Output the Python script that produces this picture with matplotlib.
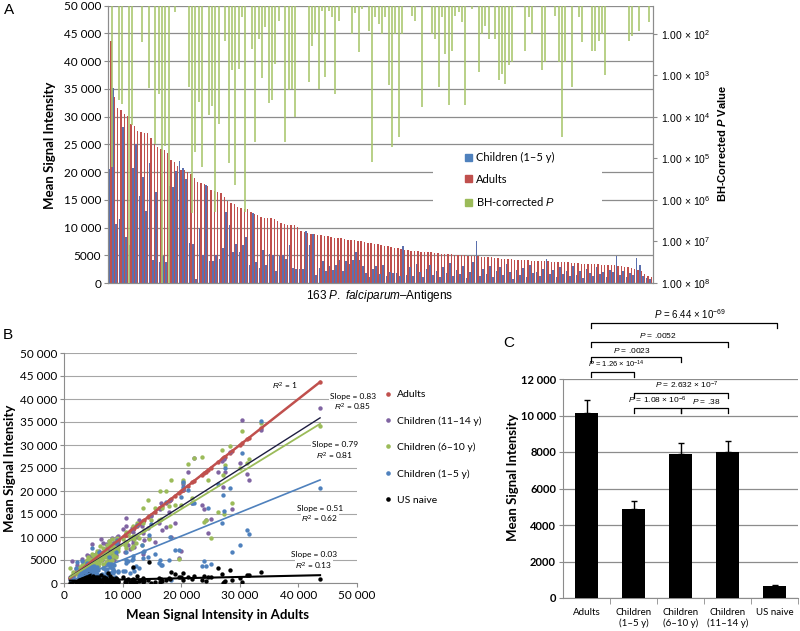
import matplotlib.pyplot as plt
import numpy as np
from matplotlib.lines import Line2D
from matplotlib.patches import Patch, Rectangle
from matplotlib.ticker import FuncFormatter, NullLocator

plt.rcParams["font.family"] = ["Lato", "DejaVu Sans"]
plt.rcParams["mathtext.fontset"] = "custom"
plt.rcParams["mathtext.rm"] = "Liberation Sans"
plt.rcParams["mathtext.it"] = "Liberation Sans:italic"
plt.rcParams["mathtext.bf"] = "Liberation Sans:bold"
plt.rcParams["mathtext.bfit"] = "Liberation Sans:bold:italic"

# ---- data (thousands), 163 antigens sorted by adult signal ----
adults_k = [
    43.7, 33.6, 31.6, 31.2, 30.4, 30.1, 28.6, 28.3, 27.4, 27.3,
    27.1, 27.0, 26.2, 25.0, 24.5, 24.2, 23.9, 23.5, 22.1, 21.9,
    21.1, 20.3, 20.3, 20.0, 19.6, 19.0, 18.2, 18.1, 17.9, 17.4,
    16.7, 16.6, 16.4, 16.2, 15.5, 14.8, 14.5, 14.3, 13.7, 13.5,
    13.4, 13.3, 12.8, 12.5, 12.3, 11.9, 11.8, 11.8, 11.7, 11.6,
    11.2, 10.9, 10.6, 10.5, 10.5, 10.4, 10.1, 9.3, 9.2, 9.0,
    8.9, 8.8, 8.7, 8.6, 8.5, 8.4, 8.3, 8.2, 8.2, 8.1,
    7.9, 7.8, 7.8, 7.7, 7.6, 7.5, 7.4, 7.3, 7.2, 7.1,
    7.0, 6.8, 6.7, 6.6, 6.5, 6.4, 6.3, 6.1, 6.0, 5.9,
    5.8, 5.8, 5.7, 5.6, 5.6, 5.5, 5.5, 5.4, 5.4, 5.3,
    5.3, 5.2, 5.2, 5.1, 5.1, 5.0, 5.0, 4.9, 4.9, 4.8,
    4.8, 4.7, 4.7, 4.6, 4.6, 4.5, 4.5, 4.4, 4.4, 4.3,
    4.3, 4.2, 4.2, 4.2, 4.1, 4.1, 4.0, 4.0, 4.0, 3.9,
    3.9, 3.9, 3.8, 3.8, 3.8, 3.7, 3.7, 3.7, 3.6, 3.6,
    3.6, 3.5, 3.5, 3.5, 3.4, 3.4, 3.4, 3.3, 3.3, 3.3,
    3.2, 3.2, 3.1, 3.1, 2.9, 2.8, 2.7, 2.5, 2.3, 2.1,
    1.6, 1.3, 1.0]
kids_1_5_k = [
    20.6, 35.2, 10.6, 11.5, 28.2, 8.3, 6.8, 20.7, 25.0, 15.6,
    19.1, 13.0, 21.6, 4.2, 16.4, 3.8, 4.8, 3.8, 17.4, 17.3,
    20.2, 22.0, 20.8, 18.8, 7.2, 7.1, 0.7, 10.0, 5.0, 17.7,
    4.0, 3.9, 5.0, 4.3, 6.3, 12.8, 10.5, 5.6, 7.0, 5.5,
    6.8, 8.3, 3.3, 12.6, 3.8, 2.7, 5.9, 3.3, 5.3, 5.0,
    2.2, 4.8, 5.0, 4.3, 6.8, 2.7, 2.6, 2.6, 2.5, 9.4,
    6.8, 8.8, 1.4, 2.7, 3.9, 2.2, 3.0, 2.3, 3.3, 4.2,
    2.2, 3.9, 3.5, 4.2, 5.6, 4.2, 3.0, 1.8, 1.0, 2.5,
    3.0, 1.6, 3.2, 1.2, 2.0, 1.8, 1.8, 1.2, 6.7, 1.5,
    2.8, 1.2, 3.4, 2.0, 1.1, 2.6, 3.3, 1.4, 2.2, 1.0,
    2.9, 1.8, 3.6, 1.3, 2.4, 1.6, 3.0, 0.9, 2.0, 3.8,
    7.6, 1.2, 2.5, 1.7, 3.1, 1.0, 2.2, 2.8, 1.4, 3.5,
    1.9, 0.8, 2.3, 1.5, 2.7, 1.1, 3.2, 1.8, 2.0, 1.3,
    2.6, 4.3, 1.6, 2.4, 1.0, 2.9, 1.7, 2.1, 1.2, 3.0,
    1.5, 2.2, 0.9, 2.6, 1.8, 1.3, 2.8, 1.6, 2.0, 1.1,
    2.4, 1.9, 4.8, 1.4, 2.2, 1.0, 1.8, 1.5, 4.5, 3.2,
    1.2, 0.9, 0.8]
kids_6_10_k = [
    34.1, 34.8, 27.0, 26.1, 33.0, 25.0, 17.4, 29.7, 25.7, 14.9,
    23.5, 29.0, 15.4, 9.8, 22.5, 13.6, 13.3, 27.3, 27.2, 18.5,
    25.9, 21.9, 22.5, 17.0, 5.2, 17.0, 22.5, 12.5, 16.8, 19.9,
    16.3, 14.0, 20.0, 13.8, 16.3, 13.8, 9.5, 18.1, 11.6, 13.0,
    16.4, 8.3, 9.8, 13.0, 8.8, 9.6, 12.4, 8.0, 10.2, 7.6,
    9.9, 10.8, 7.6, 9.0, 11.0, 8.2, 9.6, 7.6, 6.9, 9.8,
    5.6, 9.3, 7.1, 6.4, 8.0, 5.9, 7.3, 9.5, 5.0, 6.7,
    8.6, 4.8, 7.9, 6.0, 9.1, 5.4, 6.5, 8.2, 4.6, 7.0,
    5.7, 6.8, 4.2, 7.6, 5.3, 6.3, 5.1, 8.0, 4.4, 6.4,
    5.6, 3.8, 6.9, 4.9, 5.5, 4.1, 6.2, 4.7, 5.3, 3.9,
    5.9, 4.5, 3.6, 5.4, 4.2, 6.0, 3.4, 4.8, 5.1, 3.7,
    6.3, 4.3, 3.2, 5.0, 4.0, 3.5, 4.6, 3.1, 5.2, 3.8,
    4.4, 2.9, 4.7, 3.4, 5.6, 3.0, 4.2, 3.6, 2.8, 4.5,
    3.3, 5.0, 2.7, 3.9, 4.6, 3.1, 2.6, 4.0, 3.5, 2.9,
    4.3, 3.2, 2.5, 3.7, 3.0, 2.4, 3.6, 2.8, 4.1, 2.6,
    3.3, 2.2, 3.9, 2.9, 2.4, 3.4, 2.1, 2.7, 3.1, 1.9,
    2.5, 1.8, 3.3]
kids_11_14_k = [
    38.0, 33.3, 22.5, 23.6, 35.5, 26.0, 16.1, 28.5, 24.1, 27.0,
    20.8, 26.5, 24.1, 14.0, 10.8, 13.6, 16.0, 17.0, 27.2, 17.4,
    24.1, 20.5, 21.5, 7.0, 5.4, 13.0, 10.1, 18.0, 15.5, 12.2,
    11.5, 17.5, 16.0, 13.0, 8.9, 14.6, 9.8, 12.0, 9.3, 6.2,
    10.8, 12.5, 13.8, 10.1, 10.3, 7.9, 11.0, 8.6, 9.4, 12.0,
    7.4, 8.3, 14.2, 12.5, 9.0, 6.8, 11.7, 10.2, 8.4, 10.1,
    6.0, 7.2, 9.0, 5.1, 8.3, 6.2, 8.6, 5.5, 9.8, 7.0,
    4.6, 8.1, 6.4, 9.2, 5.2, 7.7, 6.8, 4.3, 8.4, 5.9,
    7.3, 3.9, 6.5, 8.6, 5.0, 6.1, 9.6, 5.4, 4.8, 7.0,
    3.6, 6.2, 5.1, 4.4, 6.6, 3.9, 5.8, 4.6, 6.3, 3.5,
    5.2, 4.1, 6.0, 3.3, 4.9, 5.5, 4.2, 6.1, 3.8, 5.0,
    8.4, 3.4, 4.7, 5.6, 3.1, 4.4, 5.3, 3.7, 4.8, 2.9,
    4.1, 5.9, 3.3, 4.5, 3.6, 5.0, 3.2, 4.6, 3.9, 2.8,
    4.3, 6.0, 3.5, 4.0, 2.7, 4.7, 3.3, 2.9, 4.2, 3.6,
    2.6, 4.4, 3.1, 3.8, 2.5, 3.4, 4.1, 2.8, 3.5, 3.0,
    2.4, 3.7, 5.2, 2.6, 3.2, 2.3, 2.9, 2.2, 3.9, 3.0,
    1.8, 4.7, 1.2]
naive_k = [
    0.9, 2.3, 1.8, 1.8, 0.2, 1.0, 0.6, 2.8, 0.4, 0.2,
    0.1, 1.9, 3.3, 1.4, 1.4, 0.5, 1.6, 0.7, 1.6, 0.9,
    1.4, 2.2, 0.6, 1.2, 1.4, 2.0, 2.3, 0.9, 1.1, 0.6,
    0.4, 0.8, 0.3, 1.0, 0.2, 0.1, 4.5, 0.7, 0.5, 1.1,
    0.3, 0.6, 0.4, 1.6, 0.2, 0.5, 0.8, 3.5, 0.3, 0.6,
    0.2, 0.9, 0.4, 0.1, 0.7, 0.3, 1.2, 0.5, 0.2, 0.8,
    0.4, 1.0, 0.3, 0.6, 0.2, 0.9, 0.3, 1.1, 0.5, 0.2,
    0.8, 1.5, 0.4, 0.1, 0.7, 2.2, 0.3, 0.6, 1.0, 0.2,
    0.5, 1.3, 0.4, 0.8, 0.1, 0.6, 1.8, 0.3, 0.5, 0.9,
    0.2, 1.2, 0.4, 0.7, 0.1, 0.5, 0.8, 1.4, 0.3, 0.6,
    0.2, 1.0, 0.5, 0.1, 0.7, 0.3, 1.6, 0.4, 0.2, 0.9,
    0.5, 0.1, 1.1, 0.3, 0.6, 0.8, 0.2, 0.5, 1.3, 0.4,
    0.1, 0.7, 0.3, 2.0, 0.5, 0.2, 0.9, 0.4, 0.6, 0.1,
    1.2, 0.3, 0.5, 0.8, 0.2, 0.4, 1.0, 0.3, 0.6, 0.1,
    0.5, 1.5, 0.2, 0.4, 0.7, 0.3, 0.5, 0.9, 0.1, 0.4,
    0.6, 0.2, 1.1, 0.3, 0.5, 0.2, 0.4, 0.8, 0.1, 0.3,
    0.5, 0.2, 0.1]
# BH-corrected P bars, log10 depth on the right axis (1.32 = no bar)
bh_exp = [
    5.2, 1.32, 3.6, 3.7, 1.32, 8.0, 4.2, 1.32, 1.32, 2.2,
    1.32, 3.3, 1.32, 4.64, 3.44, 8.0, 4.7, 8.0, 1.32, 1.48,
    1.32, 1.32, 1.32, 3.28, 6.32, 4.84, 3.64, 5.2, 1.32, 3.96,
    3.74, 6.3, 4.18, 1.32, 2.18, 5.12, 2.88, 5.64, 2.84, 1.6,
    6.3, 1.32, 2.36, 4.6, 2.12, 3.06, 1.84, 3.66, 3.6, 2.72,
    1.68, 1.32, 4.6, 3.36, 3.32, 4.0, 1.32, 1.32, 1.32, 3.16,
    2.28, 2.0, 3.32, 1.44, 3.04, 1.44, 1.6, 3.44, 1.68, 1.32,
    1.32, 1.32, 2.0, 1.5, 2.44, 1.4, 1.32, 1.92, 5.08, 1.6,
    1.76, 2.0, 1.6, 3.24, 4.72, 2.0, 4.48, 2.0, 1.32, 1.32,
    1.56, 1.68, 1.32, 3.76, 1.32, 1.32, 2.0, 2.12, 3.28, 1.6,
    2.48, 3.72, 2.4, 1.56, 1.48, 1.72, 3.72, 1.32, 1.4, 1.32,
    2.92, 2.0, 1.8, 2.12, 1.32, 2.12, 3.12, 2.96, 3.2, 2.76,
    2.68, 1.36, 1.32, 1.32, 2.4, 1.6, 2.0, 1.32, 1.32, 2.88,
    2.68, 1.32, 1.32, 1.56, 2.68, 4.48, 2.68, 1.32, 3.28, 1.32,
    1.6, 2.2, 1.32, 1.32, 2.4, 2.4, 2.16, 2.0, 3.0, 1.32,
    1.32, 1.32, 1.32, 1.32, 1.32, 2.16, 2.04, 1.32, 1.92, 1.32,
    1.32, 1.72, 1.32]

# trendline ends in panel B (thousands)
trend_x = [1.0, 43.7]
trend_adults = [1.0, 43.7]
trend_11_14 = [1.3, 35.9]
trend_6_10 = [1.2, 34.6]
trend_1_5 = [0.4, 22.4]
trend_naive = [0.5, 1.7]

# panel C
group_labels = ["Adults", "Children\n(1–5 y)", "Children\n(6–10 y)",
                "Children\n(11–14 y)", "US naive"]
group_means = [10150, 4860, 7875, 8020, 660]
group_err = [700, 470, 600, 600, 70]
pairs = [(0.1, 4.05), (0.1, 3.0), (0.1, 2.0), (0.1, 1.0), (1.0, 3.0), (1.0, 2.0), (2.0, 3.0)]
pair_y = [15070, 14030, 13205, 12380, 11230, 10410, 10410]
pair_p = [r"$P$ = 6.44 × 10$^{-69}$", r"$P$ = .0052", r"$P$ = .0023",
          r"$P$ = 1.26 × 10$^{-14}$", r"$P$ = 2.632 × 10$^{-7}$",
          r"$P$ = 1.08 × 10$^{-6}$", r"$P$ = .38"]

RED, BLUE, GREEN, PURPLE = "#c0504d", "#4f81bd", "#9bbb59", "#8064a2"
GRID = "#8c8c8c"
ARIAL = "Liberation Sans"


def fx(p):
    return p / 800


def fy(p):
    return 1 - p / 631


def thousands(v, pos):
    v = int(round(v))
    return f"{v:,}".replace(",", " ") if v >= 10000 else str(v)


adults = np.array(adults_k) * 1000
kids15 = np.array(kids_1_5_k) * 1000
kids610 = np.array(kids_6_10_k) * 1000
kids1114 = np.array(kids_11_14_k) * 1000
naive = np.array(naive_k) * 1000
idx = np.arange(len(adults))

fig = plt.figure(figsize=(8, 6.31), dpi=100)

# ---------------- panel A ----------------
axA = fig.add_axes([fx(108), fy(283), 545 / 800, 277.3 / 631])
axA.bar(idx + 0.2, adults, width=0.42, color=RED, zorder=2)
axA.bar(idx - 0.25, kids15, width=0.5, color="#5b70ae", zorder=3)
axA.set_xlim(-0.7, 162.7)
axA.set_ylim(0, 50000)
axA.set_yticks(range(0, 50001, 5000))
axA.yaxis.set_major_formatter(FuncFormatter(thousands))
axA.set_xticks([])
axA.grid(axis="y", color=GRID, lw=0.9)
axA.set_axisbelow(True)
axA.spines["top"].set_visible(False)
for s in ("left", "bottom", "right"):
    axA.spines[s].set_color(GRID)
axA.tick_params(axis="y", labelsize=8.5, length=3, color=GRID, pad=2)

axP = axA.twinx()
top = 10 ** 1.32
axP.set_yscale("log")
axP.set_ylim(1e8, top)
axP.vlines(idx + 0.45, top, 10.0 ** np.array(bh_exp), color="#a8c66c", lw=1.15, zorder=4)
axP.set_yticks([10.0 ** k for k in range(2, 9)])
axP.set_yticklabels([r"1.00 × 10$^{%d}$" % k for k in range(2, 9)], fontfamily=ARIAL)
axP.yaxis.set_minor_locator(NullLocator())
axP.tick_params(axis="y", labelsize=7.5, length=3, color=GRID, pad=3)
axP.spines["top"].set_visible(False)
for s in ("left", "bottom", "right"):
    axP.spines[s].set_color(GRID)
axP.add_patch(Rectangle((fx(433), fy(211)), 169 / 800, 62 / 631, transform=fig.transFigure,
                        facecolor="white", edgecolor="none", zorder=3))
hA = [Patch(color=BLUE), Patch(color=RED), Patch(color=GREEN)]
legA = axP.legend(hA, ["Children (1–5 y)", "Adults", r"BH-corrected $P$"],
                  loc="upper left", bbox_to_anchor=(fx(465), fy(152)),
                  bbox_transform=fig.transFigure, frameon=False, fontsize=8,
                  handlelength=0.6, handleheight=0.6, handletextpad=0.35,
                  labelspacing=0.95, borderpad=0, borderaxespad=0)
legA.set_zorder(6)

fig.text(fx(9), fy(10), "A", fontsize=11, family=ARIAL, ha="center", va="center")
fig.text(fx(50), fy(145), "Mean Signal Intensity", rotation=90, fontsize=9.5,
         fontweight="bold", ha="center", va="center")
fig.text(fx(380), fy(296), r"163 $\mathit{P.\ falciparum}$–Antigens", fontsize=8.5,
         family=ARIAL, ha="center", va="center")
fig.text(fx(722), fy(143), r"BH-Corrected $\mathbfit{P}$ Value", rotation=90, fontsize=8,
         fontweight="bold", family=ARIAL, ha="center", va="center")

# ---------------- panel B ----------------
axB = fig.add_axes([fx(64), fy(583), 293 / 800, 230 / 631])
series = [(adults, RED), (kids1114, PURPLE), (kids610, GREEN), (kids15, BLUE), (naive, "black")]
for yv, c in series:
    axB.scatter(adults, yv, s=10, color=c, linewidths=0, zorder=3)
tx = np.array(trend_x) * 1000
trends = [(trend_adults, RED, 1.8), (trend_11_14, "#1d1d40", 1.0), (trend_6_10, GREEN, 1.3),
          (trend_1_5, BLUE, 1.2), (trend_naive, "black", 1.5)]
for ty, c, lw in trends:
    axB.plot(tx, np.array(ty) * 1000, color=c, lw=lw, zorder=4)
axB.set_xlim(0, 50000)
axB.set_ylim(0, 50000)
axB.set_xticks(range(0, 50001, 10000))
axB.set_yticks(range(0, 50001, 5000))
axB.xaxis.set_major_formatter(FuncFormatter(thousands))
axB.yaxis.set_major_formatter(FuncFormatter(thousands))
axB.grid(axis="y", color="#a6a6a6", lw=0.8)
axB.set_axisbelow(True)
for s in ("top", "right"):
    axB.spines[s].set_visible(False)
for s in ("left", "bottom"):
    axB.spines[s].set_color(GRID)
axB.tick_params(labelsize=8.5, length=3, color=GRID, pad=2)

hB = [Line2D([], [], ls="", marker="o", markersize=3.3, color=c, markeredgewidth=0)
      for _, c in series]
axB.legend(hB, ["Adults", "Children (11–14 y)", "Children (6–10 y)", "Children (1–5 y)", "US naive"],
           loc="upper left", bbox_to_anchor=(fx(384), fy(390)), bbox_transform=fig.transFigure,
           frameon=False, fontsize=7.5, handlelength=0.8, handletextpad=0.45,
           labelspacing=1.62, borderpad=0, borderaxespad=0)

notes = [(285, 386, r"$\mathit{R}^2$ = 1"),
         (353, 396, "Slope = 0.83"), (353, 407, r"$\mathit{R}^2$ = 0.85"),
         (335, 445, "Slope = 0.79"), (335, 456, r"$\mathit{R}^2$ = 0.81"),
         (320, 508, "Slope = 0.51"), (320, 519, r"$\mathit{R}^2$ = 0.62"),
         (314, 554, "Slope = 0.03"), (314, 566, r"$\mathit{R}^2$ = 0.13")]
for px, py, t in notes:
    fig.text(fx(px), fy(py), t, fontsize=6, ha="center", va="center", zorder=5,
             bbox=dict(facecolor="white", edgecolor="none", pad=0.6))

fig.text(fx(8), fy(335), "B", fontsize=11, family=ARIAL, ha="center", va="center")
fig.text(fx(10), fy(468), "Mean Signal Intensity", rotation=90, fontsize=9.5,
         fontweight="bold", ha="center", va="center")
fig.text(fx(217), fy(615), "Mean Signal Intensity in Adults", fontsize=9.5,
         fontweight="bold", ha="center", va="center")

# ---------------- panel C ----------------
axC = fig.add_axes([fx(563), fy(598), 235 / 800, 219 / 631])
gx = np.arange(len(group_means))
axC.bar(gx, group_means, width=0.5, color="black", zorder=3)
axC.errorbar(gx, group_means, yerr=[np.zeros(len(gx)), group_err], fmt="none",
             ecolor="black", elinewidth=1, capsize=2.5, capthick=1, zorder=4)
axC.set_xlim(-0.5, 4.5)
axC.set_ylim(0, 12000)
axC.set_yticks(range(0, 12001, 2000))
axC.yaxis.set_major_formatter(FuncFormatter(thousands))
axC.set_xticks(gx)
axC.set_xticklabels(group_labels, fontsize=7, linespacing=1.25)
axC.set_xticks(np.arange(0.5, 4.6, 1.0), minor=True)
axC.tick_params(axis="x", which="major", length=0, pad=7)
axC.tick_params(axis="x", which="minor", length=4, color=GRID)
axC.tick_params(axis="y", labelsize=8, length=3, color=GRID, pad=2)
for lab in axC.get_yticklabels():
    lab.set_fontweight("bold")
axC.grid(axis="y", color=GRID, lw=0.9)
axC.set_axisbelow(True)
for s in ("top", "right"):
    axC.spines[s].set_visible(False)
for s in ("left", "bottom"):
    axC.spines[s].set_color(GRID)

h = 270
label_x = [2.2, 1.52, 0.97, 0.63, 2.14, 1.5, 2.54]
label_fs = [7, 6, 6, 5.5, 6, 6, 6]
for (x0, x1), y, t, lx, fs in zip(pairs, pair_y, pair_p, label_x, label_fs):
    axC.plot([x0, x0, x1, x1], [y - h, y, y, y - h], color="black", lw=0.9, clip_on=False)
    axC.text(lx, y + 110, t, fontsize=fs, family=ARIAL, ha="center", va="bottom", clip_on=False)

fig.text(fx(509), fy(343), "C", fontsize=11, family=ARIAL, ha="center", va="center")
fig.text(fx(513), fy(477), "Mean Signal Intensity", rotation=90, fontsize=9.5,
         fontweight="bold", ha="center", va="center")

fig.savefig("out.png", dpi=100)
